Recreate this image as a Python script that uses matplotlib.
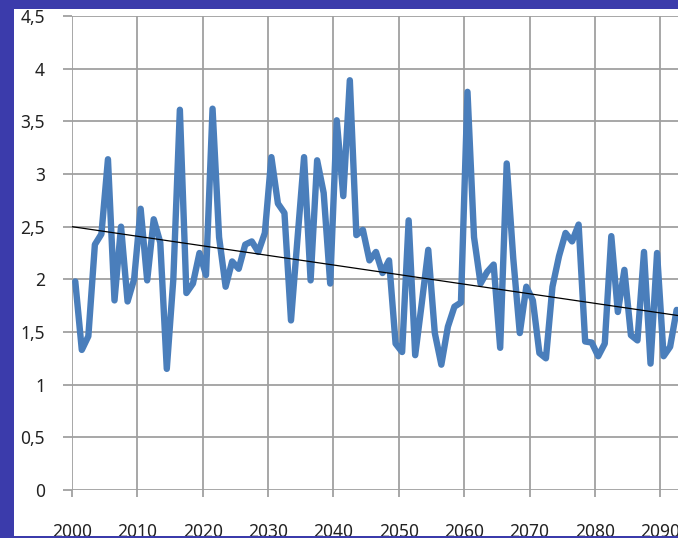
import matplotlib
matplotlib.use("Agg")
import matplotlib.pyplot as plt
import numpy as np
from matplotlib.patches import Rectangle

# yearly values (2000 .. 2092, rest is cut off)
years = np.arange(2000, 2093)
values = [
    1.98, 1.33, 1.46, 2.33, 2.43, 3.14, 1.80, 2.50, 1.79, 2.00,
    2.67, 1.99, 2.57, 2.35, 1.15, 2.00, 3.61, 1.87, 1.96, 2.25,
    2.04, 3.62, 2.40, 1.93, 2.17, 2.10, 2.33, 2.36, 2.26, 2.44,
    3.16, 2.72, 2.63, 1.61, 2.39, 3.16, 1.99, 3.13, 2.82, 1.96,
    3.51, 2.79, 3.89, 2.42, 2.47, 2.18, 2.26, 2.06, 2.18, 1.39,
    1.31, 2.56, 1.28, 1.77, 2.28, 1.49, 1.19, 1.55, 1.74, 1.78,
    3.78, 2.40, 1.96, 2.07, 2.14, 1.35, 3.10, 2.20, 1.49, 1.93,
    1.80, 1.30, 1.25, 1.93, 2.22, 2.44, 2.36, 2.52, 1.41, 1.40,
    1.27, 1.39, 2.41, 1.69, 2.09, 1.47, 1.42, 2.26, 1.20, 2.25,
    1.27, 1.36, 1.71,
]

# linear trend line (value at 2000 and change per year)
trend_start = 2.50
trend_slope = -0.0091

x_ticks = [2000, 2010, 2020, 2030, 2040, 2050, 2060, 2070, 2080, 2090]
x_tick_labels = ["2000", "2010", "2020", "2030", "2040", "2050", "2060", "2070", "2080", "2090"]
y_ticks = [0, 0.5, 1, 1.5, 2, 2.5, 3, 3.5, 4, 4.5]
y_tick_labels = ["0", "0,5", "1", "1,5", "2", "2,5", "3", "3,5", "4", "4,5"]


def my_plot(output_path="out.png"):
    plt.rcParams["font.family"] = ["Noto Sans", "DejaVu Sans"]
    W, H = 678, 538
    fig = plt.figure(figsize=(W / 100, H / 100), dpi=100, facecolor="#3b3bab")

    # white slide panel on the blue background
    panel = Rectangle((14 / W, 2 / H), 664 / W, 527 / H, transform=fig.transFigure,
                      facecolor="white", edgecolor="none", zorder=-1)
    fig.add_artist(panel)

    ax = fig.add_axes([72 / W, 48 / H, 606 / W, 474 / H])
    ax.set_facecolor("none")

    # annual values sit in the middle of each year
    ax.plot(years + 0.5, values, color="#4a7ebb", lw=4.6,
            solid_joinstyle="round", solid_capstyle="round", zorder=3)

    x_right = 2000 + 606 / 6.537
    tx = np.array([2000, x_right])
    ax.plot(tx, trend_start + trend_slope * (tx - 2000), color="black", lw=0.9, zorder=4)

    ax.set_xlim(2000, x_right)
    ax.set_ylim(0, 4.5)
    ax.set_xticks(x_ticks)
    ax.set_xticklabels(x_tick_labels)
    ax.set_yticks(y_ticks)
    ax.set_yticklabels(y_tick_labels)

    ax.grid(True, color="#a0a0a0", lw=1.3)
    ax.set_axisbelow(True)
    for s in ax.spines.values():
        s.set_visible(False)
    ax.tick_params(axis="y", length=6.5, width=1.3, color="#a0a0a0", pad=13,
                   labelsize=12.5, labelcolor="#222222")
    ax.tick_params(axis="x", length=5, width=1.3, color="#a0a0a0", pad=18.5,
                   labelsize=12.5, labelcolor="#222222")

    # thin blue strip at the bottom cuts the year labels
    strip = Rectangle((0, 0), 1, 2 / H, transform=fig.transFigure,
                      facecolor="#3b3bab", edgecolor="none", zorder=10)
    fig.add_artist(strip)

    fig.savefig(output_path, dpi=100, facecolor=fig.get_facecolor())


if __name__ == "__main__":
    my_plot("out.png")
